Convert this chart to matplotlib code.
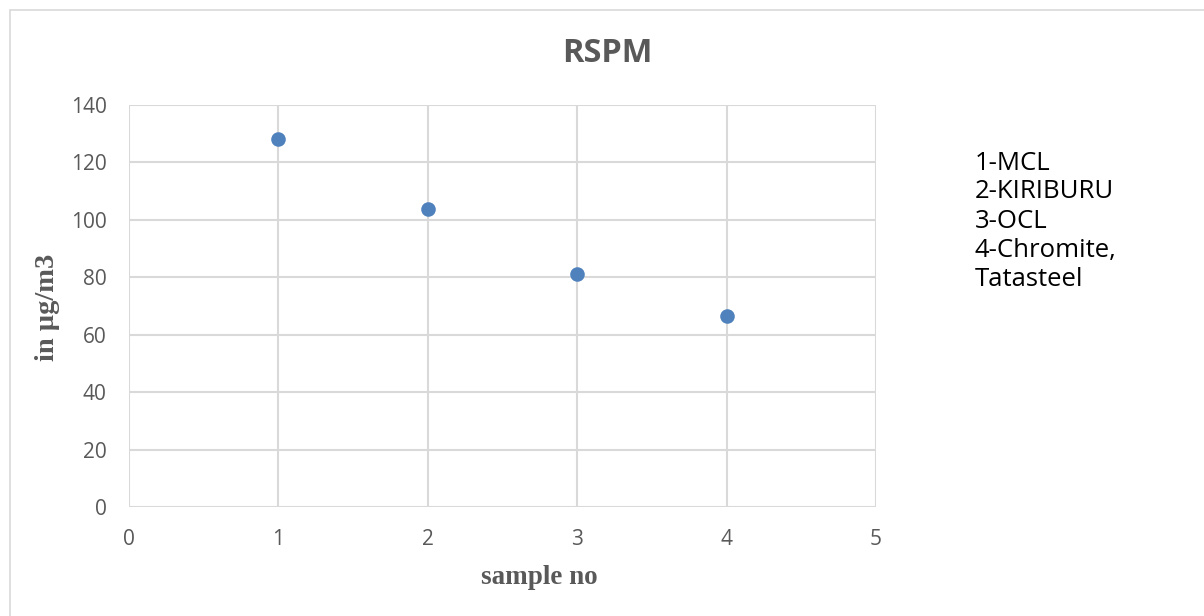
import matplotlib.pyplot as plt
from matplotlib.patches import Rectangle

sample_no = [1, 2, 3, 4]
rspm = [128, 103.7, 81, 66.5]
sites = ["1-MCL", "2-KIRIBURU", "3-OCL", "4-Chromite,", "Tatasteel"]
x_ticks = [0, 1, 2, 3, 4, 5]
y_ticks = [0, 20, 40, 60, 80, 100, 120, 140]

W, H = 1204, 616
fig = plt.figure(figsize=(W / 100, H / 100), dpi=100)
fig.patch.set_facecolor("white")

# outer chart frame
fig.patches.append(Rectangle((10 / W, -0.01), 1.2, (H - 10) / H + 0.01,
                             transform=fig.transFigure, fill=False,
                             edgecolor="#d9d9d9", linewidth=1.2))

ax = fig.add_axes([129 / W, 1 - 507 / H, (876 - 129) / W, (507 - 105) / H])
grid_c = "#d9d9d9"
text_c = "#595959"

ax.set_xlim(0, 5)
ax.set_ylim(0, 140)
ax.set_xticks(x_ticks)
ax.set_yticks(y_ticks)
ax.grid(True, color=grid_c, linewidth=1.5)
ax.set_axisbelow(True)
for s in ax.spines.values():
    s.set_visible(False)
ax.axhline(0, color=grid_c, linewidth=1.8, zorder=1)
ax.tick_params(length=0, colors=text_c, labelsize=15)
ax.tick_params(axis="y", pad=16)
ax.tick_params(axis="x", pad=16)
for lab in ax.get_xticklabels() + ax.get_yticklabels():
    lab.set_fontfamily("Open Sans")

ax.scatter(sample_no, rspm, s=110, color="#4f81bd", zorder=3, linewidths=0)

fig.text(607 / W, 1 - 54 / H, "RSPM", ha="center", va="center",
         fontsize=23.5, fontweight="bold", color=text_c, family="Open Sans")
fig.text(539 / W, 1 - 577 / H, "sample no", ha="center", va="center",
         fontsize=19.5, fontweight="bold", color=text_c, family="Liberation Serif")
fig.text(47 / W, 1 - 307 / H, "in µg/m3", ha="center", va="center", rotation=90,
         fontsize=20.5, fontweight="bold", color=text_c, family="Liberation Serif")

for i, name in enumerate(sites):
    fig.text(975 / W, 1 - (163 + 29 * i) / H, name, ha="left", va="center",
             fontsize=18.5, color="black", family="Open Sans")

fig.savefig("out.png", dpi=100, facecolor="white")
